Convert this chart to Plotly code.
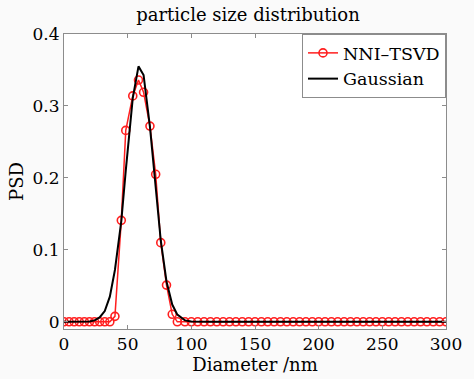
import plotly.graph_objects as go

# Particle diameters (nm) at which the distributions are sampled
diameter_nm = [0, 4, 8, 12, 16, 20, 24, 28, 32, 36,
               40, 45, 48.5, 54, 58.5, 62.5, 67.5, 72, 76, 80.5, 85, 89,
               95, 100, 105, 110, 115, 120, 125, 130, 135, 140, 145, 150,
               155, 160, 165, 170, 175, 180, 185, 190, 195, 200, 205, 210,
               215, 220, 225, 230, 235, 240, 245, 250, 255, 260, 265, 270,
               275, 280, 285, 290, 295, 300]

# Inverted PSD (NNI-TSVD)
psd_nni_tsvd = [0, 0, 0, 0, 0, 0, 0, 0, 0, 0,
                0.0076, 0.141, 0.266, 0.314, 0.336, 0.319, 0.272, 0.205, 0.110, 0.051, 0.0104, 0,
                0, 0, 0, 0, 0, 0, 0, 0, 0, 0, 0, 0,
                0, 0, 0, 0, 0, 0, 0, 0, 0, 0, 0, 0,
                0, 0, 0, 0, 0, 0, 0, 0, 0, 0, 0, 0,
                0, 0, 0, 0, 0, 0]

# Reference Gaussian PSD
psd_gaussian = [0, 0, 0, 0, 0, 0.0005, 0.002, 0.006, 0.015, 0.035,
                0.072, 0.140, 0.210, 0.311, 0.355, 0.343, 0.271, 0.187, 0.113, 0.056, 0.024, 0.010,
                0.002, 0.0005, 0, 0, 0, 0, 0, 0, 0, 0, 0, 0,
                0, 0, 0, 0, 0, 0, 0, 0, 0, 0, 0, 0,
                0, 0, 0, 0, 0, 0, 0, 0, 0, 0, 0, 0,
                0, 0, 0, 0, 0, 0]

x_ticks = [0, 50, 100, 150, 200, 250, 300]
y_ticks = [0, 0.1, 0.2, 0.3, 0.4]
y_tick_text = ["0", "0.1", "0.2", "0.3", "0.4"]

FONT = "DejaVu Serif"
AXIS_GRAY = "#8c8c8c"

fig = go.Figure()
fig.add_trace(go.Scatter(
    x=diameter_nm, y=psd_nni_tsvd, name="NNI\u2013TSVD",
    mode="lines+markers",
    line=dict(color="#ff1f1f", width=1.5),
    marker=dict(symbol="circle-open", size=8, color="#ff1f1f",
                line=dict(width=1.6, color="#ff1f1f")),
))
fig.add_trace(go.Scatter(
    x=diameter_nm, y=psd_gaussian, name="Gaussian",
    mode="lines",
    line=dict(color="black", width=2),
))

axis_common = dict(
    showline=True, linecolor=AXIS_GRAY, linewidth=1, mirror="ticks",
    ticks="inside", ticklen=4, tickcolor=AXIS_GRAY,
    showgrid=False, zeroline=False,
    tickfont=dict(family=FONT, size=17, color="black"),
)

fig.update_layout(
    width=474, height=379,
    margin=dict(l=64, r=18, t=34, b=48),
    paper_bgcolor="#fafafa", plot_bgcolor="white",
    font=dict(family=FONT, color="black"),
    title=dict(text="particle size distribution", x=248 / 474, xanchor="center",
               y=1 - 15 / 379, yanchor="middle",
               font=dict(family=FONT, size=18, color="black")),
    xaxis=dict(range=[0, 300], tickvals=x_ticks,
               title=dict(text="Diameter /nm", standoff=0,
                          font=dict(family=FONT, size=18)),
               **axis_common),
    yaxis=dict(range=[-0.01, 0.4], tickvals=y_ticks, ticktext=y_tick_text,
               title=dict(text="PSD", standoff=4,
                          font=dict(family=FONT, size=18)),
               **axis_common),
    legend=dict(x=1, y=1, xanchor="right", yanchor="top",
                bgcolor="white", bordercolor=AXIS_GRAY, borderwidth=1,
                font=dict(family=FONT, size=17.5, color="black"),
                tracegroupgap=0, itemwidth=30),
    showlegend=True,
)

fig.write_html("out.html")
